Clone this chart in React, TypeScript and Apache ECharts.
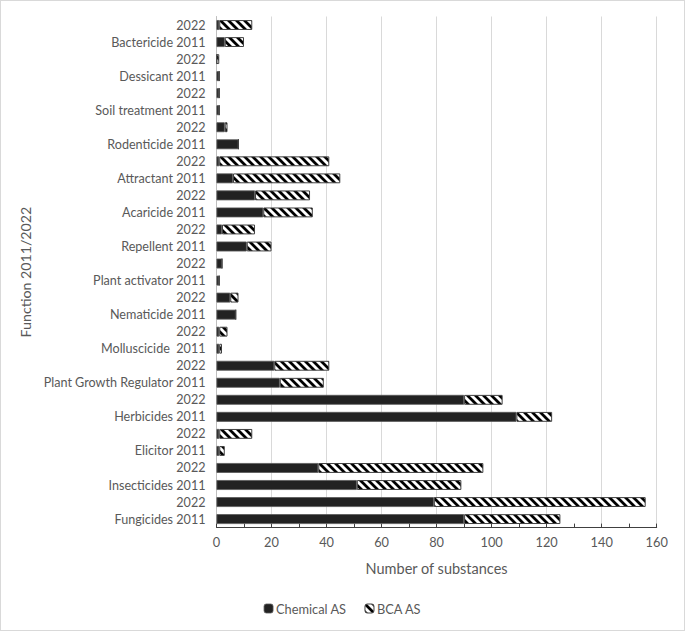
import React, { useEffect, useRef } from "react";
import * as echarts from "echarts";

const categories = [
  "Fungicides 2011", "2022",
  "Insecticides 2011", "2022",
  "Elicitor 2011", "2022",
  "Herbicides 2011", "2022",
  "Plant Growth Regulator 2011", "2022",
  "Molluscicide  2011", "2022",
  "Nematicide 2011", "2022",
  "Plant activator 2011", "2022",
  "Repellent 2011", "2022",
  "Acaricide 2011", "2022",
  "Attractant 2011", "2022",
  "Rodenticide 2011", "2022",
  "Soil treatment 2011", "2022",
  "Dessicant 2011", "2022",
  "Bactericide 2011", "2022",
];

const chemicalAS = [
  90, 79,
  51, 37,
  1, 1,
  109, 90,
  23, 21,
  1, 1,
  7, 5,
  1, 2,
  11, 2,
  17, 14,
  6, 1,
  8, 3,
  1, 1,
  1, 0,
  3, 1,
];

const bcaAS = [
  35, 77,
  38, 60,
  2, 12,
  13, 14,
  16, 20,
  1, 3,
  0, 3,
  0, 0,
  9, 12,
  18, 20,
  39, 40,
  0, 1,
  0, 0,
  0, 1,
  7, 12,
];

const xTicks = { min: 0, max: 160, interval: 20 };

const FONT = "Lato, 'Open Sans', sans-serif";
const TEXT = "#595959";

function hatchUrl(): string {
  const svg =
    "<svg xmlns='http://www.w3.org/2000/svg' width='8' height='8'>" +
    "<rect width='8' height='8' fill='white'/>" +
    "<path d='M-2,-2 L10,10 M6,-2 L10,2 M-2,6 L2,10' stroke='black' stroke-width='2.8'/>" +
    "</svg>";
  return "data:image/svg+xml;base64," + btoa(svg);
}

export default function App() {
  const ref = useRef<HTMLDivElement>(null);
  useEffect(() => {
    document.body.style.margin = "0";
    if (!ref.current) return;
    const chart = echarts.init(ref.current, null, { renderer: "svg" });
    const hatch: any = {
      image: hatchUrl(),
      repeat: "repeat",
      imageWidth: 8,
      imageHeight: 8,
    };
    chart.setOption({
      animation: false,
      backgroundColor: "#ffffff",
      textStyle: { fontFamily: FONT },
      grid: { left: 215.5, right: 27.3, top: 15.5, bottom: 102.4, containLabel: false },
      legend: {
        bottom: 10,
        left: "center",
        itemWidth: 9,
        itemHeight: 9,
        itemGap: 18,
        textStyle: { color: TEXT, fontSize: 12.8, fontFamily: FONT, padding: [0, 0, 0, -2] },
        data: [
          { name: "Chemical AS", itemStyle: { color: "#222222", borderColor: "#595959", borderWidth: 0.8 } },
          { name: "BCA AS", itemStyle: { color: hatch, borderColor: "#404040", borderWidth: 1 } },
        ],
      },
      xAxis: {
        type: "value",
        min: xTicks.min,
        max: xTicks.max,
        interval: xTicks.interval,
        name: "Number of substances",
        nameLocation: "middle",
        nameGap: 33,
        nameTextStyle: { color: TEXT, fontSize: 14.5, fontFamily: FONT },
        axisLine: { show: true, lineStyle: { color: "#404040", width: 1 } },
        axisTick: { show: true, inside: true, length: 4, lineStyle: { color: "#404040" } },
        minorTick: { show: true, splitNumber: 2, length: 4, lineStyle: { color: "#404040" } },
        axisLabel: { color: TEXT, fontSize: 12.8, margin: 8, fontFamily: FONT },
        splitLine: { show: true, lineStyle: { color: "#d9d9d9", width: 1 } },
      },
      yAxis: {
        type: "category",
        data: categories,
        name: "Function 2011/2022",
        nameLocation: "middle",
        nameGap: 180,
        nameRotate: 90,
        nameTextStyle: { color: TEXT, fontSize: 14.2, fontFamily: FONT },
        axisLine: { show: true, lineStyle: { color: "#bfbfbf" } },
        axisTick: { show: false },
        axisLabel: { color: TEXT, fontSize: 12.6, margin: 11, fontFamily: FONT },
      },
      series: [
        {
          name: "Chemical AS",
          type: "bar",
          stack: "total",
          data: chemicalAS,
          barCategoryGap: "42%",
          itemStyle: { color: "#222222", borderColor: "#595959", borderWidth: 0.8 },
        },
        {
          name: "BCA AS",
          type: "bar",
          stack: "total",
          data: bcaAS,
          itemStyle: { color: hatch, borderColor: "#404040", borderWidth: 1 },
        },
      ],
    });
    return () => chart.dispose();
  }, []);
  return (
    <div
      style={{
        position: "fixed",
        left: 0,
        top: 0,
        width: 685,
        height: 631,
        boxSizing: "border-box",
        border: "1px solid #d9d9d9",
        background: "#fff",
      }}
    >
      <div ref={ref} style={{ width: 683, height: 629 }} />
    </div>
  );
}
